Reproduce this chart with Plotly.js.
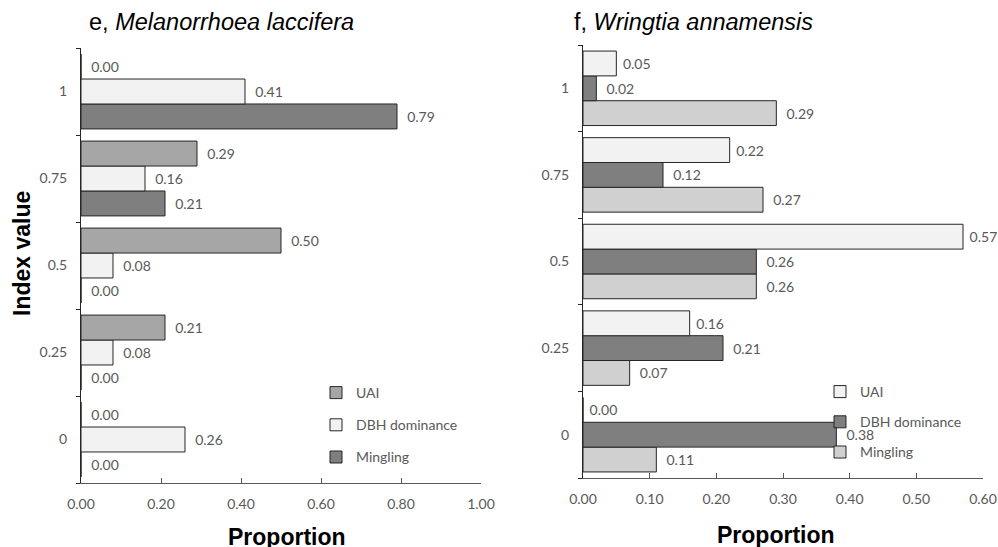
<!DOCTYPE html>
<html>
<head>
<meta charset="utf-8">
<script src="https://cdn.plot.ly/plotly-3.0.1.min.js"></script>
<style>html,body{margin:0;padding:0;background:#fff;}#chart{width:998px;height:547px;}</style>
</head>
<body>
<div id="chart"></div>
<script>
// Index value categories (bottom to top)
const categories = ['0', '0.25', '0.5', '0.75', '1'];
const seriesNames = ['UAI', 'DBH dominance', 'Mingling'];

// Panel e, Melanorrhoea laccifera
const eUAI      = [0.00, 0.21, 0.50, 0.29, 0.00];
const eDBH      = [0.26, 0.08, 0.08, 0.16, 0.41];
const eMingling = [0.00, 0.00, 0.00, 0.21, 0.79];

// Panel f, Wringtia annamensis
const fUAI      = [0.00, 0.16, 0.57, 0.22, 0.05];
const fDBH      = [0.38, 0.21, 0.26, 0.12, 0.02];
const fMingling = [0.11, 0.07, 0.26, 0.27, 0.29];

const eXTicks = [0, 0.2, 0.4, 0.6, 0.8, 1.0];
const fXTicks = [0, 0.1, 0.2, 0.3, 0.4, 0.5, 0.6];

const labelFont = {family: 'Lato, "Open Sans", sans-serif', size: 14, color: '#595959'};

function bar(name, values, color, xa, ya, legend, rank, pad) {
  return {
    type: 'bar', orientation: 'h', name: name,
    x: values, y: categories, xaxis: xa, yaxis: ya,
    legend: legend, legendgroup: legend + name, legendrank: rank,
    marker: {color: color, line: {color: '#262626', width: 1}},
    texttemplate: pad + '%{x:.2f}', textposition: 'outside',
    textfont: labelFont, cliponaxis: false, constraintext: 'none',
    hoverinfo: 'x+y+name'
  };
}

const padE = '\u00a0\u00a0', padF = '\u00a0\u00a0';
// order: bottom bar first in each group
const data = [
  bar(seriesNames[2], eMingling, '#7f7f7f', 'x', 'y', 'legend', 3, padE),
  bar(seriesNames[1], eDBH, '#f2f2f2', 'x', 'y', 'legend', 2, padE),
  bar(seriesNames[0], eUAI, '#a6a6a6', 'x', 'y', 'legend', 1, padE),
  bar(seriesNames[2], fMingling, '#d0d0d0', 'x2', 'y2', 'legend2', 3, padF),
  bar(seriesNames[1], fDBH, '#7f7f7f', 'x2', 'y2', 'legend2', 2, padF),
  bar(seriesNames[0], fUAI, '#f2f2f2', 'x2', 'y2', 'legend2', 1, '\u00a0')
];

const W = 998, H = 547;
const px = v => v / W, py = v => 1 - v / H;

function xaxis(domain, range, ticks, anchor) {
  return {
    domain: domain, range: range, anchor: anchor,
    tickvals: ticks, tickformat: '.2f', ticks: 'inside', ticklen: 5,
    tickcolor: '#595959', showline: true, linecolor: '#595959', linewidth: 1,
    showgrid: false, zeroline: false, tickfont: labelFont,
    ticklabelstandoff: 8, fixedrange: true
  };
}
function yaxis(domain, anchor) {
  return {
    domain: domain, anchor: anchor, type: 'category',
    categoryorder: 'array', categoryarray: categories,
    tickson: 'boundaries', ticks: 'outside', ticklen: 4, tickcolor: '#262626',
    showline: true, linecolor: '#262626', linewidth: 1,
    showgrid: false, zeroline: false, tickfont: labelFont,
    ticklabelstandoff: 10, fixedrange: true
  };
}

const legendCommon = {
  xanchor: 'left', yanchor: 'top', bgcolor: 'rgba(0,0,0,0)',
  font: labelFont, itemclick: false, itemdoubleclick: false
};

const titleFont = {family: '"Liberation Sans", Arial, sans-serif', size: 23.5, color: '#000'};
const axisTitleFont = {family: '"Liberation Sans", Arial, sans-serif', size: 23, color: '#000'};

const layout = {
  width: W, height: H,
  margin: {l: 0, r: 0, t: 0, b: 0},
  paper_bgcolor: '#ffffff', plot_bgcolor: '#ffffff',
  barmode: 'group', bargap: 0.14, bargroupgap: 0,
  showlegend: true,
  xaxis: xaxis([px(81), px(481)], [0, 1.0], eXTicks, 'y'),
  yaxis: yaxis([1 - 483 / H, 1 - 48 / H], 'x'),
  xaxis2: xaxis([px(583), px(983)], [0, 0.6], fXTicks, 'y2'),
  yaxis2: yaxis([1 - 478 / H, 1 - 45 / H], 'x2'),
  legend: Object.assign({x: px(316), y: py(377), tracegroupgap: 11}, legendCommon),
  legend2: Object.assign({x: px(820), y: py(376), tracegroupgap: 9}, legendCommon),
  annotations: [
    {text: 'e, <i>Melanorrhoea laccifera</i>', xref: 'paper', yref: 'paper',
     x: px(87), y: py(22), xanchor: 'left', yanchor: 'middle', showarrow: false,
     font: titleFont},
    {text: 'f, <i>Wringtia annamensis</i>', xref: 'paper', yref: 'paper',
     x: px(572), y: py(22), xanchor: 'left', yanchor: 'middle', showarrow: false,
     font: titleFont},
    {text: '<b>Index value</b>', xref: 'paper', yref: 'paper', textangle: -90,
     x: px(22), y: py(254), xanchor: 'center', yanchor: 'middle', showarrow: false,
     font: axisTitleFont},
    {text: '<b>Proportion</b>', xref: 'paper', yref: 'paper',
     x: px(287), y: py(537), xanchor: 'center', yanchor: 'middle', showarrow: false,
     font: axisTitleFont},
    {text: '<b>Proportion</b>', xref: 'paper', yref: 'paper',
     x: px(776), y: py(535), xanchor: 'center', yanchor: 'middle', showarrow: false,
     font: axisTitleFont}
  ]
};

Plotly.newPlot('chart', data, layout, {displayModeBar: false});
</script>
</body>
</html>
